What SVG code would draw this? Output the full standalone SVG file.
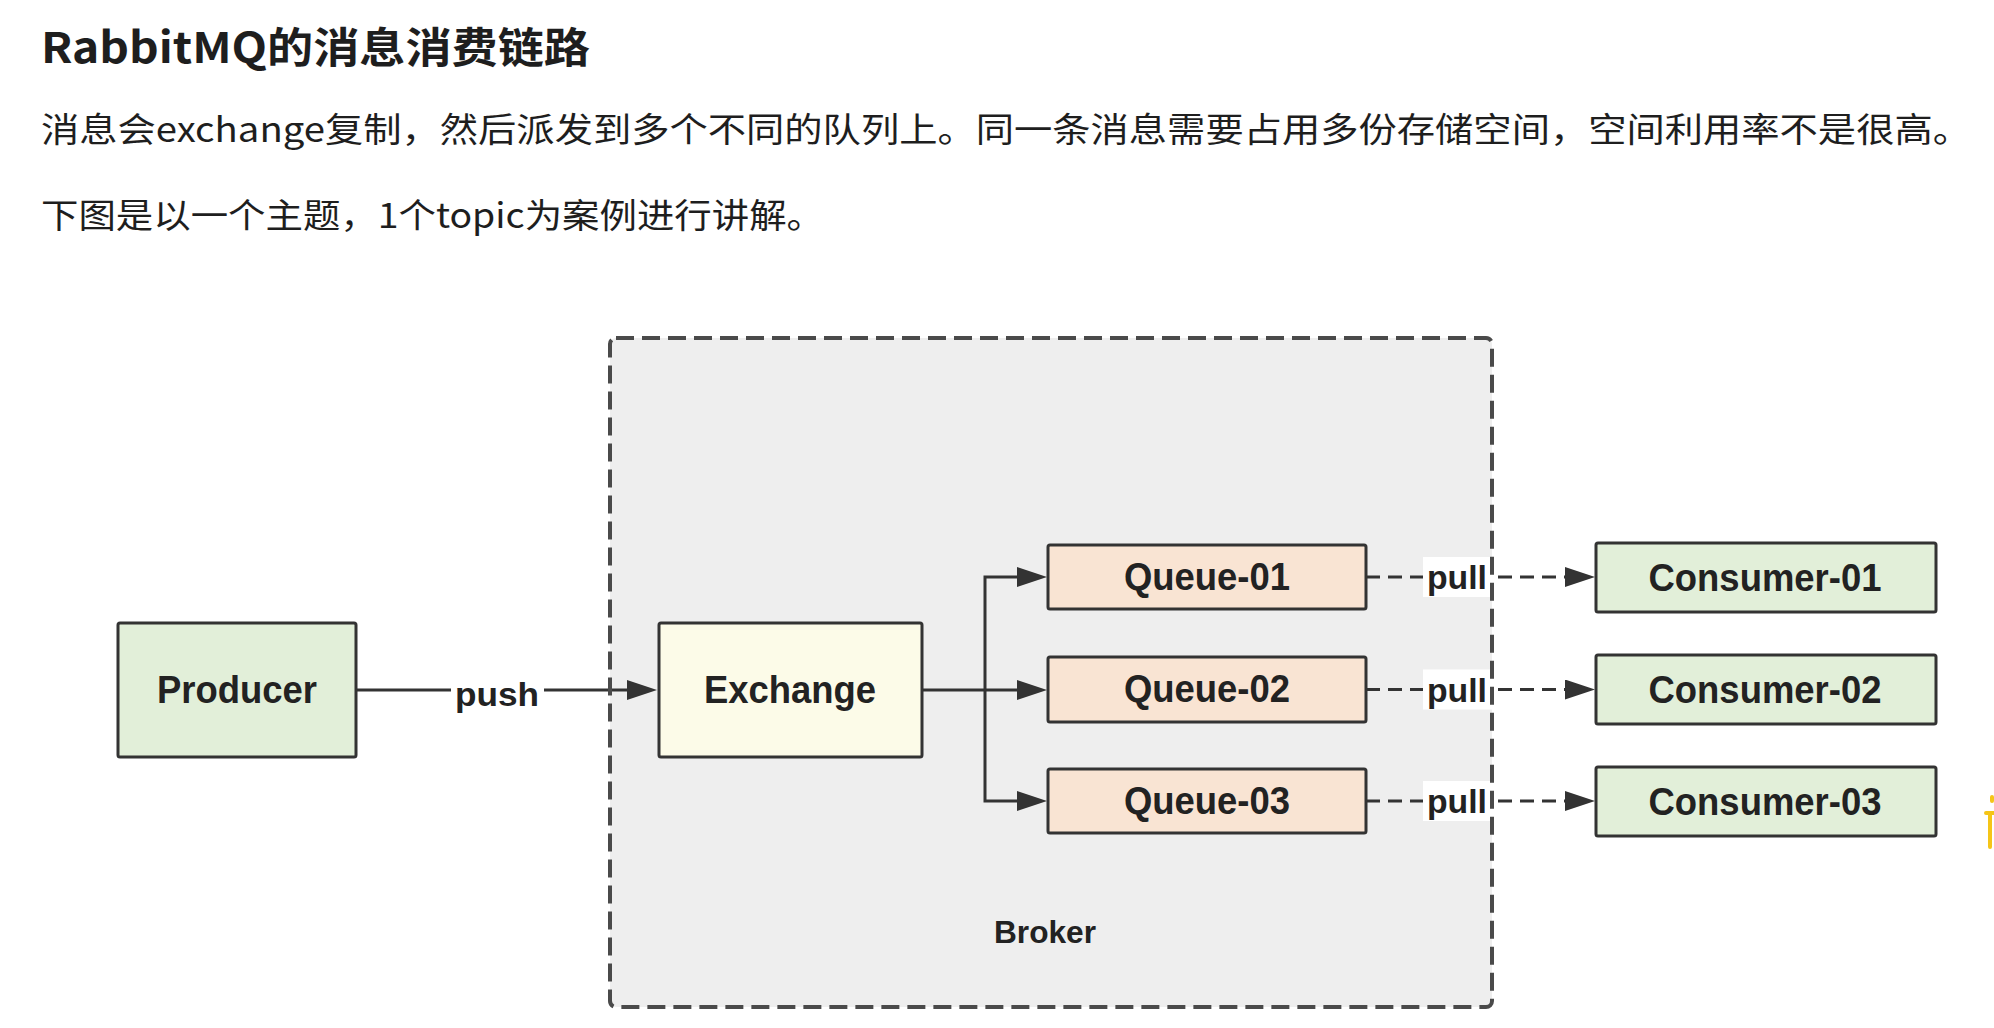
<svg xmlns="http://www.w3.org/2000/svg" width="1994" height="1028" viewBox="0 0 1994 1028">
<style>
.hd{font-family:"Noto Sans CJK SC","Liberation Sans",sans-serif;fill:#1e1e1e}
.box{stroke:#333;stroke-width:3}
.green{fill:#e2efd9}
.yellow{fill:#fcfbe8}
.peach{fill:#f9e4d3}
.lbl{font-family:"Liberation Sans",Arial,sans-serif;font-weight:bold;fill:#222;text-anchor:middle}
.big{font-size:38px}
.small{font-size:34px}
.conn{fill:none;stroke:#333;stroke-width:3}
.dash{stroke-dasharray:14 8}
</style>
<defs>
<marker id="arr" markerUnits="userSpaceOnUse" markerWidth="30" markerHeight="20" refX="0" refY="10" orient="auto">
<path d="M0,0 L30,10 L0,20 z" fill="#333"/>
</marker>
</defs>
<rect width="1994" height="1028" fill="#fff"/>
<g id="header">
<text class="hd" x="41" y="63" font-size="42" font-weight="bold" textLength="549" lengthAdjust="spacingAndGlyphs">RabbitMQ的消息消费链路</text>
<text class="hd" x="41" y="142" font-size="34" textLength="1930" lengthAdjust="spacingAndGlyphs">消息会exchange复制，然后派发到多个不同的队列上。同一条消息需要占用多份存储空间，空间利用率不是很高。</text>
<text class="hd" x="41" y="228" font-size="34" textLength="783" lengthAdjust="spacingAndGlyphs">下图是以一个主题，1个topic为案例进行讲解。</text>
</g>
<rect id="broker-fill" x="610" y="338" width="882" height="669" rx="6" fill="#eeeeee"/>
<g id="connectors">
<path class="conn" d="M356,690 H627" marker-end="url(#arr)"/>
<path class="conn" d="M922,690 H1017" marker-end="url(#arr)"/>
<path class="conn" d="M985,690 V577 H1017" marker-end="url(#arr)"/>
<path class="conn" d="M985,690 V801 H1017" marker-end="url(#arr)"/>
<path class="conn dash" d="M1366,577 H1565" marker-end="url(#arr)"/>
<path class="conn dash" d="M1366,689.5 H1565" marker-end="url(#arr)"/>
<path class="conn dash" d="M1366,801 H1565" marker-end="url(#arr)"/>
<rect x="451" y="676" width="93" height="40" fill="#fff"/>
<text class="lbl small" x="497" y="706" textLength="84" lengthAdjust="spacingAndGlyphs">push</text>
<rect x="1423" y="557" width="69" height="40" fill="#fff"/>
<text class="lbl small" x="1457" y="589" textLength="60" lengthAdjust="spacingAndGlyphs">pull</text>
<rect x="1423" y="669.5" width="69" height="40" fill="#fff"/>
<text class="lbl small" x="1457" y="701.5" textLength="60" lengthAdjust="spacingAndGlyphs">pull</text>
<rect x="1423" y="781" width="69" height="40" fill="#fff"/>
<text class="lbl small" x="1457" y="813" textLength="60" lengthAdjust="spacingAndGlyphs">pull</text>
</g>
<g id="broker">
<rect x="610" y="338" width="882" height="669" rx="6" fill="none" stroke="#4a4a4a" stroke-width="4" stroke-dasharray="18 8"/>
<text class="lbl" x="1045" y="943" font-size="32" textLength="102" lengthAdjust="spacingAndGlyphs">Broker</text>
</g>
<g id="producer">
<rect class="box green" x="118" y="623" width="238" height="134" rx="2"/>
<text class="lbl big" x="237" y="703" textLength="160" lengthAdjust="spacingAndGlyphs">Producer</text>
</g>
<g id="exchange">
<rect class="box yellow" x="659" y="623" width="263" height="134" rx="2"/>
<text class="lbl big" x="790" y="703" textLength="172" lengthAdjust="spacingAndGlyphs">Exchange</text>
</g>
<g id="queue-01">
<rect class="box peach" x="1048" y="545" width="318" height="64" rx="2"/>
<text class="lbl big" x="1207" y="590" textLength="166" lengthAdjust="spacingAndGlyphs">Queue-01</text>
</g>
<g id="queue-02">
<rect class="box peach" x="1048" y="657" width="318" height="65" rx="2"/>
<text class="lbl big" x="1207" y="702" textLength="166" lengthAdjust="spacingAndGlyphs">Queue-02</text>
</g>
<g id="queue-03">
<rect class="box peach" x="1048" y="769" width="318" height="64" rx="2"/>
<text class="lbl big" x="1207" y="814" textLength="166" lengthAdjust="spacingAndGlyphs">Queue-03</text>
</g>
<g id="consumer-01">
<rect class="box green" x="1596" y="543" width="340" height="69" rx="2"/>
<text class="lbl big" x="1765" y="591" textLength="233" lengthAdjust="spacingAndGlyphs">Consumer-01</text>
</g>
<g id="consumer-02">
<rect class="box green" x="1596" y="655" width="340" height="69" rx="2"/>
<text class="lbl big" x="1765" y="703" textLength="233" lengthAdjust="spacingAndGlyphs">Consumer-02</text>
</g>
<g id="consumer-03">
<rect class="box green" x="1596" y="767" width="340" height="69" rx="2"/>
<text class="lbl big" x="1765" y="815" textLength="233" lengthAdjust="spacingAndGlyphs">Consumer-03</text>
</g>
<g id="edge-mark" fill="none" stroke="#f5c518" stroke-width="4" stroke-linecap="round">
<path d="M1986,813 H1994 M1990,813 V847 M1992,797 V801"/>
</g>
</svg>
